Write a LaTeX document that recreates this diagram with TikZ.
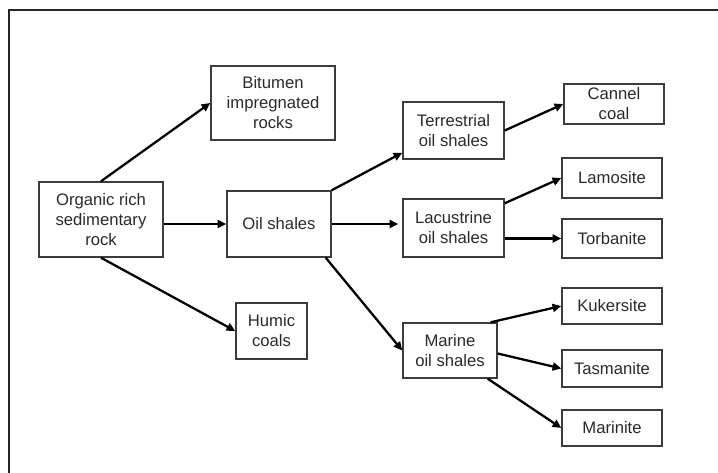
\documentclass[tikz,border=0pt]{standalone}
\usepackage{fontspec}
\setmainfont{Liberation Sans}
\usetikzlibrary{arrows.meta,calc}
\definecolor{boxline}{HTML}{3C3C3C}
\definecolor{txt}{HTML}{2A2A2A}
\tikzset{
  box/.style 2 args={draw=boxline, line width=1.1pt, text=txt, align=center,
    inner sep=0pt, minimum width=#1*0.75pt, minimum height=#2*0.75pt,
    font=\fontsize{12.5pt}{15pt}\selectfont},
  conn/.style={line width=1.7pt, black, -{Triangle[length=6.5pt,width=6pt]}},
  frame/.style={line width=1.5pt, black!85}
}
\begin{document}
\begin{tikzpicture}[x=0.75pt, y=-0.75pt]
\useasboundingbox (0,0) rectangle (718,473);
\draw[frame] (718,10) -- (9,10) -- (9,473);

\node[box={124}{74}] (bit) at (273,103) {Bitumen\\impregnated\\rocks};
\node[box={124}{75}] (org) at (101,219.5) {Organic rich\\sedimentary\\rock};
\node[box={104}{66}] (oil) at (279,224) {Oil shales};
\node[box={71}{56}] (hum) at (271.5,331) {Humic\\coals};
\node[box={101}{57}] (ter) at (453.5,130.5) {Terrestrial\\oil shales};
\node[box={101}{58}] (lac) at (453.5,228) {Lacustrine\\oil shales};
\node[box={94}{55}] (mar) at (450,350.5) {Marine\\oil shales};
\node[box={100}{40}] (can) at (614,104) {Cannel\\coal};
\node[box={100}{40}] (lam) at (612,178) {Lamosite};
\node[box={100}{39}] (tor) at (612,238.5) {Torbanite};
\node[box={100}{36}] (kuk) at (612,306) {Kukersite};
\node[box={100}{37}] (tas) at (612,368.5) {Tasmanite};
\node[box={100}{36}] (mri) at (612,428) {Marinite};

\draw[conn] (org.north) -- (bit.west);
\draw[conn] (org.east |- oil.west) -- (oil.west);
\draw[conn] (org.south) -- (hum.west);
\draw[conn] (oil.north east) -- ($(ter.south west)+(0,-7)$);
\draw[conn, shorten >=3pt] (oil.east) -- (oil.east -| lac.west);
\draw[conn] ($(oil.south east)+(-6,0)$) -- (mar.west);
\draw[conn] (ter.east) -- (can.west);
\draw[conn] ($(lac.north east)+(0,5)$) -- (lam.west);
\draw[conn] (lac.east |- tor.west) -- (tor.west);
\draw[conn] ($(mar.north east)+(-7,0)$) -- (kuk.west);
\draw[conn] ($(mar.east)+(0,3)$) -- (tas.west);
\draw[conn] ($(mar.south east)+(-10,0)$) -- (mri.west);
\end{tikzpicture}
\end{document}
